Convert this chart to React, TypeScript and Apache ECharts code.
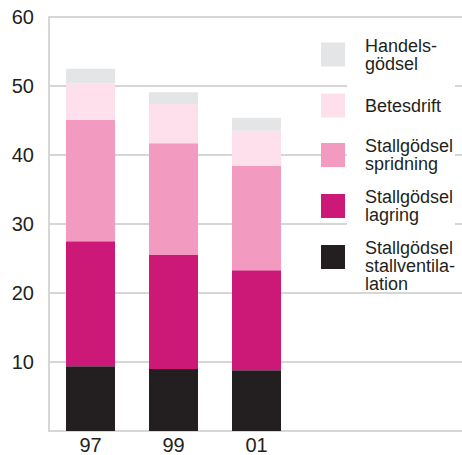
import React, { useEffect, useRef } from "react";
import * as echarts from "echarts";

const categories = ["97", "99", "01", "", ""];
const ventilation = [9.4, 9.0, 8.8];
const lagring = [18.1, 16.5, 14.5];
const spridning = [17.6, 16.2, 15.1];
const betesdrift = [5.3, 5.7, 5.1];
const handelsgodsel = [2.1, 1.7, 1.9];
const yTicks = [0, 10, 20, 30, 40, 50, 60];

const seriesDefs = [
  { name: "Stallgödsel stallventilation", label: "\nStallgödsel\nstallventila-\nlation", data: ventilation, color: "#231f20" },
  { name: "Stallgödsel lagring", label: "Stallgödsel\nlagring", data: lagring, color: "#cc1977" },
  { name: "Stallgödsel spridning", label: "Stallgödsel\nspridning", data: spridning, color: "#f39ac1" },
  { name: "Betesdrift", label: "Betesdrift", data: betesdrift, color: "#fde0eb" },
  { name: "Handelsgödsel", label: "Handels-\ngödsel", data: handelsgodsel, color: "#e4e5e7" },
];

// legend order (top to bottom) and icon centres
const legendOrder = [4, 3, 2, 1, 0];
const iconCenters = [54.5, 105.5, 155, 206, 257];

export default function App() {
  const ref = useRef<HTMLDivElement>(null);
  useEffect(() => {
    if (!ref.current) return;
    const chart = echarts.init(ref.current, null, { renderer: "svg" });
    const font = "'Liberation Sans', Arial, Helvetica, sans-serif";
    const LH = 18;
    const legends = legendOrder.map((si, i) => {
      const d = seriesDefs[si];
      const lines = d.label.split("\n").length;
      const textH = lines * LH;
      const h = Math.max(24, textH);
      return {
        data: [d.name],
        orient: "vertical",
        left: 321,
        top: iconCenters[i] - h / 2,
        padding: 0,
        itemWidth: 24,
        itemHeight: 24,
        icon: "rect",
        selectedMode: false,
        formatter: () => d.label,
        textStyle: {
          fontFamily: font,
          fontSize: 18,
          lineHeight: LH,
          color: "#231f20",
          padding: [0, 0, 0, 15],
        },
      };
    });
    chart.setOption({
      animation: false,
      backgroundColor: "#ffffff",
      grid: { left: 49, top: 17, width: 415, height: 414, outerBoundsMode: "none", containLabel: false },
      legend: legends,
      graphic: [
        {
          type: "rect",
          z: 3,
          shape: { x: 347, y: 36, width: 108, height: 250 },
          style: { fill: "#ffffff" },
        },
      ],
      xAxis: {
        type: "category",
        data: categories,
        axisLine: { show: true, lineStyle: { color: "#d6d6d6", width: 2 } },
        axisTick: { show: false },
        axisLabel: { fontFamily: font, fontSize: 20, lineHeight: 20, color: "#231f20", margin: 4 },
      },
      yAxis: {
        type: "value",
        min: 0,
        max: 60,
        interval: 10,
        axisLine: { show: true, lineStyle: { color: "#d6d6d6", width: 2 } },
        axisTick: { show: false },
        splitLine: { show: true, lineStyle: { color: "#d6d6d6", width: 2 } },
        axisLabel: {
          fontFamily: font,
          fontSize: 20,
          color: "#231f20",
          margin: 15,
          padding: [4, 0, 0, 0],
          formatter: (v: number) => (v === 0 || !yTicks.includes(v) ? "" : String(v)),
        },
      },
      series: seriesDefs.map((d) => ({
        name: d.name,
        type: "bar",
        stack: "total",
        barWidth: 49,
        data: d.data,
        itemStyle: { color: d.color },
        emphasis: { disabled: true },
      })),
    });
    return () => chart.dispose();
  }, []);
  return (
    <div
      ref={ref}
      style={{ position: "fixed", left: 0, top: 0, width: 462, height: 455 }}
    />
  );
}
